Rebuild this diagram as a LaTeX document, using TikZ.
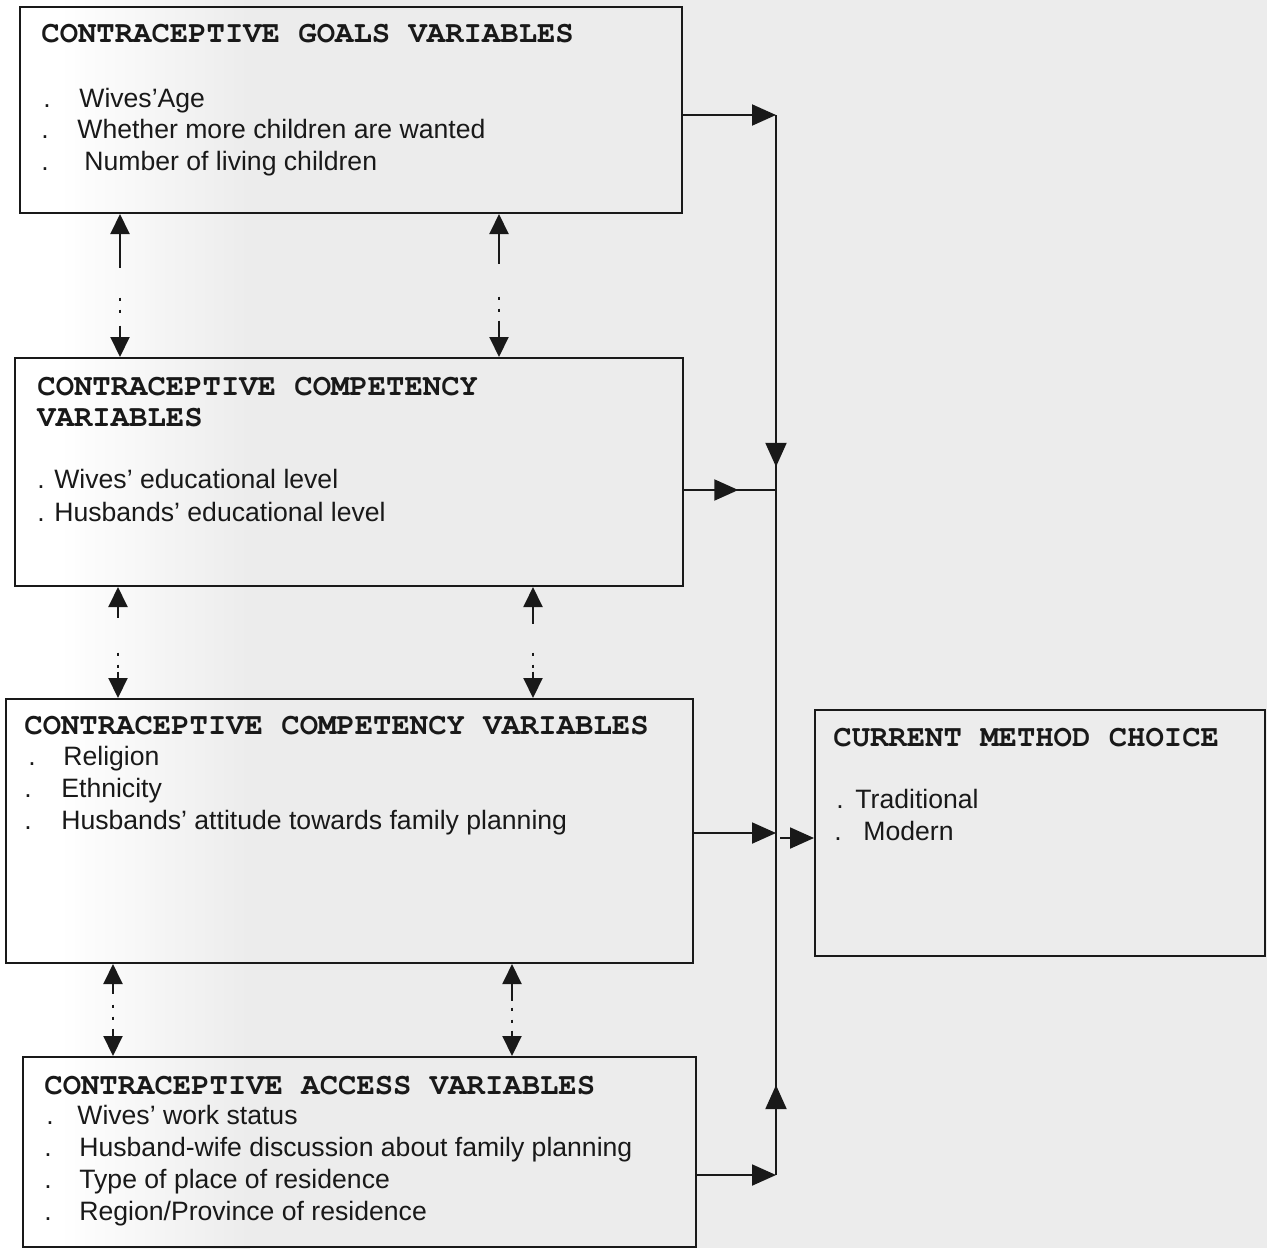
\documentclass[tikz,border=0pt]{standalone}
\usepackage{fontspec}
\setmainfont{Liberation Sans}
\newfontfamily\monofont{TeX Gyre Cursor}
\usetikzlibrary{arrows.meta,fit,decorations.markings}
\definecolor{paper}{gray}{0.925}
\definecolor{ink}{gray}{0.1}

\tikzset{
  box/.style={draw=ink, line width=1pt, inner sep=0pt},
  head/.style={anchor=base west, inner sep=0pt, text=ink, font=\monofont\bfseries\fontsize{15.3pt}{18pt}\selectfont},
  entry/.style={anchor=base west, inner sep=0pt, text=ink, font=\fontsize{13.3pt}{16pt}\selectfont},
  flow/.style={draw=ink, line width=1pt, -{Triangle[length=12pt,width=10.5pt]}},
  midarrow/.style={draw=ink, line width=1pt, postaction={decorate},
    decoration={markings, mark=at position #1 with {\arrow{Triangle[length=12pt,width=10.5pt]}}}},
  link/.style n args={3}{draw=ink, line width=1pt,
    {Triangle[length=10pt,width=9.5pt]}-{Triangle[length=10pt,width=9.5pt]},
    dash pattern=on #1 off #2 on 1.5pt off 4.5pt on 1.5pt off #3 on 300pt}
}

\begin{document}
\begin{tikzpicture}[x=0.5pt, y=-0.5pt]
  \useasboundingbox (0,0) rectangle (1267,1248);
  % paper tone
  \fill[white] (0,0) rectangle (1267,1248);
  \shade[left color=white, right color=paper] (60,0) rectangle (250,1248);
  \fill[paper] (250,0) rectangle (1267,1248);

  % boxes
  \node[box, fit={(20,7) (682,213)}] (goals) {};
  \node[box, fit={(15,358) (683,586)}] (comp) {};
  \node[box, fit={(6,699) (693,963)}] (cv) {};
  \node[box, fit={(23,1057) (696,1247)}] (acc) {};
  \node[box, fit={(815,710) (1265,956)}] (choice) {};

  % goals
  \node[head] (t1) at (41,42) {CONTRACEPTIVE GOALS VARIABLES};
  \node[entry] (g1) at (43,107) {.\hspace{14.3pt}Wives’Age};
  \node[entry] (g2) at (41,138) {.\hspace{14.3pt}Whether more children are wanted};
  \node[entry] (g3) at (41,170) {.\hspace{17.8pt}Number of living children};

  % competency
  \node[head] (t2) at (37,395) {CONTRACEPTIVE COMPETENCY};
  \node[head] (t2b) at (37,426) {VARIABLES};
  \node[entry] (c1) at (37,488) {.\hspace{4.8pt}Wives’ educational level};
  \node[entry] (c2) at (37,521) {.\hspace{4.8pt}Husbands’ educational level};

  % competency, second
  \node[head] (t3) at (24,734) {CONTRACEPTIVE COMPETENCY VARIABLES};
  \node[entry] (v1) at (28,765) {.\hspace{13.8pt}Religion};
  \node[entry] (v2) at (24,797) {.\hspace{14.8pt}Ethnicity};
  \node[entry] (v3) at (24,829) {.\hspace{14.8pt}Husbands’ attitude towards family planning};

  % access
  \node[head] (t4) at (44,1094) {CONTRACEPTIVE ACCESS VARIABLES};
  \node[entry] (a1) at (46,1124) {.\hspace{11.8pt}Wives’ work status};
  \node[entry] (a2) at (44,1156) {.\hspace{13.8pt}Husband-wife discussion about family planning};
  \node[entry] (a3) at (44,1188) {.\hspace{13.8pt}Type of place of residence};
  \node[entry] (a4) at (44,1220) {.\hspace{13.8pt}Region/Province of residence};

  % outcome
  \node[head] (t5) at (833,746) {CURRENT METHOD CHOICE};
  \node[entry] (m1) at (836,808) {.\hspace{5.8pt}Traditional};
  \node[entry] (m2) at (834,840) {.\hspace{10.8pt}Modern};

  % trunk points
  \coordinate (top) at (776,115);
  \coordinate (j2) at (776,490);
  \coordinate (j3) at (776,833);
  \coordinate (j3b) at (780,838);
  \coordinate (bot) at (776,1175);
  \coordinate (la) at (120,0);
  \coordinate (ra) at (499,0);
  \coordinate (lb) at (118,0);
  \coordinate (rb) at (533,0);
  \coordinate (lc) at (113,0);
  \coordinate (rc) at (512,0);

  % into the trunk
  \draw[flow] (goals.east |- top) -- (top);
  \draw[midarrow=0.49] (top) -- (j3);
  \draw[midarrow=0.59] (comp.east |- j2) -- (j2);
  \draw[flow] (cv.east |- j3) -- (j3);
  \draw[midarrow=0.263] (bot) -- (j3);
  \draw[flow] (acc.east |- bot) -- (bot);
  \draw[flow] (j3b) -- (choice.west |- j3b);

  % two-way links
  \draw[link={17pt}{15pt}{6.5pt}] (goals.south -| la) -- (comp.north -| la);
  \draw[link={15pt}{16.5pt}{4.5pt}] (goals.south -| ra) -- (comp.north -| ra);
  \draw[link={5.5pt}{17.5pt}{2pt}] (comp.south -| lb) -- (cv.north -| lb);
  \draw[link={8.5pt}{14.5pt}{2pt}] (comp.south -| rb) -- (cv.north -| rb);
  \draw[link={5pt}{5.5pt}{4.5pt}] (cv.south -| lc) -- (acc.north -| lc);
  \draw[link={8.5pt}{3.5pt}{4pt}] (cv.south -| rc) -- (acc.north -| rc);
\end{tikzpicture}
\end{document}
